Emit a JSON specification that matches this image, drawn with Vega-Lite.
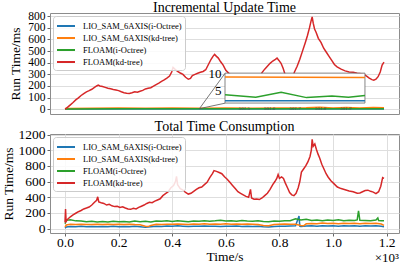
{
  "$schema": "https://vega.github.io/schema/vega-lite/v6.json",
  "padding": {"left": 0, "top": 0, "right": 0, "bottom": 0},
  "config": {
    "font": "Liberation Serif",
    "view": {"stroke": "#8c8c8c", "strokeWidth": 1},
    "title": {"font": "Liberation Serif", "fontSize": 14, "fontWeight": "normal", "color": "black"},
    "axis": {"labelFont": "Liberation Serif", "labelFontSize": 13.5, "labelColor": "black", "labelOverlap": false, "titleFont": "Liberation Serif", "titleFontSize": 13.5, "titleFontWeight": "normal", "titleColor": "black", "gridColor": "#dedede", "gridWidth": 1, "domain": false, "tickColor": "#666666", "tickSize": 3, "labelPadding": 2, "titlePadding": 3},
    "legend": {"orient": "top-left", "offset": 3, "fillColor": "rgba(255,255,255,0.85)", "strokeColor": "#cccccc", "cornerRadius": 3, "padding": 3, "rowPadding": 0, "symbolType": "M-1.5,0L1.5,0", "symbolSize": 144, "symbolOffset": 3, "symbolStrokeWidth": 2, "labelFont": "Liberation Serif", "labelFontSize": 8.5, "labelOffset": 10, "labelColor": "black"}
  },
  "datasets": {
    "top": [
      {"s": "LIO_SAM_6AXIS(i-Octree)", "t": 0, "v": 1},
      {"s": "LIO_SAM_6AXIS(i-Octree)", "t": 0.3, "v": 2.5},
      {"s": "LIO_SAM_6AXIS(i-Octree)", "t": 0.6, "v": 2.3},
      {"s": "LIO_SAM_6AXIS(i-Octree)", "t": 0.9, "v": 2.6},
      {"s": "LIO_SAM_6AXIS(i-Octree)", "t": 1.19, "v": 2.4},
      {"s": "LIO_SAM_6AXIS(kd-tree)", "t": 0, "v": 6},
      {"s": "LIO_SAM_6AXIS(kd-tree)", "t": 0.1, "v": 9},
      {"s": "LIO_SAM_6AXIS(kd-tree)", "t": 0.2, "v": 10},
      {"s": "LIO_SAM_6AXIS(kd-tree)", "t": 0.3, "v": 9},
      {"s": "LIO_SAM_6AXIS(kd-tree)", "t": 0.4, "v": 11},
      {"s": "LIO_SAM_6AXIS(kd-tree)", "t": 0.5, "v": 9},
      {"s": "LIO_SAM_6AXIS(kd-tree)", "t": 0.6, "v": 10},
      {"s": "LIO_SAM_6AXIS(kd-tree)", "t": 0.7, "v": 9},
      {"s": "LIO_SAM_6AXIS(kd-tree)", "t": 0.8, "v": 11},
      {"s": "LIO_SAM_6AXIS(kd-tree)", "t": 0.9, "v": 12},
      {"s": "LIO_SAM_6AXIS(kd-tree)", "t": 0.95, "v": 16},
      {"s": "LIO_SAM_6AXIS(kd-tree)", "t": 1.0, "v": 11},
      {"s": "LIO_SAM_6AXIS(kd-tree)", "t": 1.05, "v": 15},
      {"s": "LIO_SAM_6AXIS(kd-tree)", "t": 1.1, "v": 10},
      {"s": "LIO_SAM_6AXIS(kd-tree)", "t": 1.15, "v": 14},
      {"s": "LIO_SAM_6AXIS(kd-tree)", "t": 1.19, "v": 12},
      {"s": "FLOAM(i-Octree)", "t": 0, "v": 2},
      {"s": "FLOAM(i-Octree)", "t": 0.2, "v": 4},
      {"s": "FLOAM(i-Octree)", "t": 0.4, "v": 4.2},
      {"s": "FLOAM(i-Octree)", "t": 0.6, "v": 4.4},
      {"s": "FLOAM(i-Octree)", "t": 0.8, "v": 4},
      {"s": "FLOAM(i-Octree)", "t": 1.0, "v": 4.5},
      {"s": "FLOAM(i-Octree)", "t": 1.19, "v": 4.2},
      {"s": "FLOAM(kd-tree)", "t": 0.000, "v": 0},
      {"s": "FLOAM(kd-tree)", "t": 0.010, "v": 18},
      {"s": "FLOAM(kd-tree)", "t": 0.020, "v": 38},
      {"s": "FLOAM(kd-tree)", "t": 0.030, "v": 58},
      {"s": "FLOAM(kd-tree)", "t": 0.040, "v": 80},
      {"s": "FLOAM(kd-tree)", "t": 0.050, "v": 98},
      {"s": "FLOAM(kd-tree)", "t": 0.060, "v": 118},
      {"s": "FLOAM(kd-tree)", "t": 0.070, "v": 135},
      {"s": "FLOAM(kd-tree)", "t": 0.080, "v": 150},
      {"s": "FLOAM(kd-tree)", "t": 0.090, "v": 160},
      {"s": "FLOAM(kd-tree)", "t": 0.100, "v": 172},
      {"s": "FLOAM(kd-tree)", "t": 0.110, "v": 188},
      {"s": "FLOAM(kd-tree)", "t": 0.118, "v": 200},
      {"s": "FLOAM(kd-tree)", "t": 0.124, "v": 208},
      {"s": "FLOAM(kd-tree)", "t": 0.130, "v": 200},
      {"s": "FLOAM(kd-tree)", "t": 0.140, "v": 196},
      {"s": "FLOAM(kd-tree)", "t": 0.150, "v": 188},
      {"s": "FLOAM(kd-tree)", "t": 0.160, "v": 180},
      {"s": "FLOAM(kd-tree)", "t": 0.170, "v": 176},
      {"s": "FLOAM(kd-tree)", "t": 0.180, "v": 170},
      {"s": "FLOAM(kd-tree)", "t": 0.190, "v": 165},
      {"s": "FLOAM(kd-tree)", "t": 0.200, "v": 160},
      {"s": "FLOAM(kd-tree)", "t": 0.210, "v": 150},
      {"s": "FLOAM(kd-tree)", "t": 0.220, "v": 142},
      {"s": "FLOAM(kd-tree)", "t": 0.230, "v": 138},
      {"s": "FLOAM(kd-tree)", "t": 0.240, "v": 135},
      {"s": "FLOAM(kd-tree)", "t": 0.250, "v": 142},
      {"s": "FLOAM(kd-tree)", "t": 0.260, "v": 150},
      {"s": "FLOAM(kd-tree)", "t": 0.270, "v": 146},
      {"s": "FLOAM(kd-tree)", "t": 0.280, "v": 155},
      {"s": "FLOAM(kd-tree)", "t": 0.290, "v": 162},
      {"s": "FLOAM(kd-tree)", "t": 0.300, "v": 175},
      {"s": "FLOAM(kd-tree)", "t": 0.310, "v": 180},
      {"s": "FLOAM(kd-tree)", "t": 0.320, "v": 185},
      {"s": "FLOAM(kd-tree)", "t": 0.330, "v": 198},
      {"s": "FLOAM(kd-tree)", "t": 0.340, "v": 212},
      {"s": "FLOAM(kd-tree)", "t": 0.350, "v": 225},
      {"s": "FLOAM(kd-tree)", "t": 0.360, "v": 240},
      {"s": "FLOAM(kd-tree)", "t": 0.370, "v": 252},
      {"s": "FLOAM(kd-tree)", "t": 0.380, "v": 268},
      {"s": "FLOAM(kd-tree)", "t": 0.390, "v": 285},
      {"s": "FLOAM(kd-tree)", "t": 0.398, "v": 320},
      {"s": "FLOAM(kd-tree)", "t": 0.403, "v": 360},
      {"s": "FLOAM(kd-tree)", "t": 0.410, "v": 345},
      {"s": "FLOAM(kd-tree)", "t": 0.420, "v": 325},
      {"s": "FLOAM(kd-tree)", "t": 0.430, "v": 312},
      {"s": "FLOAM(kd-tree)", "t": 0.440, "v": 300},
      {"s": "FLOAM(kd-tree)", "t": 0.450, "v": 275},
      {"s": "FLOAM(kd-tree)", "t": 0.460, "v": 258},
      {"s": "FLOAM(kd-tree)", "t": 0.468, "v": 265},
      {"s": "FLOAM(kd-tree)", "t": 0.475, "v": 290},
      {"s": "FLOAM(kd-tree)", "t": 0.485, "v": 300},
      {"s": "FLOAM(kd-tree)", "t": 0.495, "v": 310},
      {"s": "FLOAM(kd-tree)", "t": 0.505, "v": 318},
      {"s": "FLOAM(kd-tree)", "t": 0.515, "v": 325},
      {"s": "FLOAM(kd-tree)", "t": 0.525, "v": 340},
      {"s": "FLOAM(kd-tree)", "t": 0.535, "v": 385},
      {"s": "FLOAM(kd-tree)", "t": 0.545, "v": 430},
      {"s": "FLOAM(kd-tree)", "t": 0.552, "v": 455},
      {"s": "FLOAM(kd-tree)", "t": 0.558, "v": 472},
      {"s": "FLOAM(kd-tree)", "t": 0.565, "v": 455},
      {"s": "FLOAM(kd-tree)", "t": 0.572, "v": 440},
      {"s": "FLOAM(kd-tree)", "t": 0.580, "v": 410},
      {"s": "FLOAM(kd-tree)", "t": 0.590, "v": 380},
      {"s": "FLOAM(kd-tree)", "t": 0.600, "v": 335},
      {"s": "FLOAM(kd-tree)", "t": 0.615, "v": 300},
      {"s": "FLOAM(kd-tree)", "t": 0.630, "v": 260},
      {"s": "FLOAM(kd-tree)", "t": 0.650, "v": 220},
      {"s": "FLOAM(kd-tree)", "t": 0.670, "v": 190},
      {"s": "FLOAM(kd-tree)", "t": 0.690, "v": 175},
      {"s": "FLOAM(kd-tree)", "t": 0.710, "v": 200},
      {"s": "FLOAM(kd-tree)", "t": 0.725, "v": 270},
      {"s": "FLOAM(kd-tree)", "t": 0.735, "v": 315},
      {"s": "FLOAM(kd-tree)", "t": 0.745, "v": 345},
      {"s": "FLOAM(kd-tree)", "t": 0.755, "v": 370},
      {"s": "FLOAM(kd-tree)", "t": 0.765, "v": 395},
      {"s": "FLOAM(kd-tree)", "t": 0.775, "v": 415},
      {"s": "FLOAM(kd-tree)", "t": 0.785, "v": 430},
      {"s": "FLOAM(kd-tree)", "t": 0.791, "v": 440},
      {"s": "FLOAM(kd-tree)", "t": 0.798, "v": 420},
      {"s": "FLOAM(kd-tree)", "t": 0.806, "v": 395},
      {"s": "FLOAM(kd-tree)", "t": 0.814, "v": 350},
      {"s": "FLOAM(kd-tree)", "t": 0.821, "v": 300},
      {"s": "FLOAM(kd-tree)", "t": 0.830, "v": 270},
      {"s": "FLOAM(kd-tree)", "t": 0.840, "v": 255},
      {"s": "FLOAM(kd-tree)", "t": 0.850, "v": 280},
      {"s": "FLOAM(kd-tree)", "t": 0.856, "v": 320},
      {"s": "FLOAM(kd-tree)", "t": 0.866, "v": 370},
      {"s": "FLOAM(kd-tree)", "t": 0.876, "v": 430},
      {"s": "FLOAM(kd-tree)", "t": 0.886, "v": 500},
      {"s": "FLOAM(kd-tree)", "t": 0.896, "v": 570},
      {"s": "FLOAM(kd-tree)", "t": 0.904, "v": 630},
      {"s": "FLOAM(kd-tree)", "t": 0.912, "v": 700},
      {"s": "FLOAM(kd-tree)", "t": 0.918, "v": 760},
      {"s": "FLOAM(kd-tree)", "t": 0.922, "v": 795},
      {"s": "FLOAM(kd-tree)", "t": 0.926, "v": 740},
      {"s": "FLOAM(kd-tree)", "t": 0.931, "v": 690},
      {"s": "FLOAM(kd-tree)", "t": 0.937, "v": 660},
      {"s": "FLOAM(kd-tree)", "t": 0.945, "v": 610},
      {"s": "FLOAM(kd-tree)", "t": 0.955, "v": 575},
      {"s": "FLOAM(kd-tree)", "t": 0.965, "v": 525},
      {"s": "FLOAM(kd-tree)", "t": 0.975, "v": 490},
      {"s": "FLOAM(kd-tree)", "t": 0.985, "v": 455},
      {"s": "FLOAM(kd-tree)", "t": 0.995, "v": 420},
      {"s": "FLOAM(kd-tree)", "t": 1.005, "v": 385},
      {"s": "FLOAM(kd-tree)", "t": 1.015, "v": 365},
      {"s": "FLOAM(kd-tree)", "t": 1.030, "v": 345},
      {"s": "FLOAM(kd-tree)", "t": 1.045, "v": 330},
      {"s": "FLOAM(kd-tree)", "t": 1.060, "v": 320},
      {"s": "FLOAM(kd-tree)", "t": 1.075, "v": 318},
      {"s": "FLOAM(kd-tree)", "t": 1.090, "v": 310},
      {"s": "FLOAM(kd-tree)", "t": 1.105, "v": 305},
      {"s": "FLOAM(kd-tree)", "t": 1.116, "v": 300},
      {"s": "FLOAM(kd-tree)", "t": 1.125, "v": 285},
      {"s": "FLOAM(kd-tree)", "t": 1.135, "v": 268},
      {"s": "FLOAM(kd-tree)", "t": 1.145, "v": 255},
      {"s": "FLOAM(kd-tree)", "t": 1.152, "v": 250},
      {"s": "FLOAM(kd-tree)", "t": 1.160, "v": 258},
      {"s": "FLOAM(kd-tree)", "t": 1.168, "v": 280},
      {"s": "FLOAM(kd-tree)", "t": 1.176, "v": 320},
      {"s": "FLOAM(kd-tree)", "t": 1.183, "v": 380},
      {"s": "FLOAM(kd-tree)", "t": 1.190, "v": 405}
    ],
    "inset": [
      {"s": "LIO_SAM_6AXIS(i-Octree)", "t": 501.424, "v": 2.3},
      {"s": "LIO_SAM_6AXIS(i-Octree)", "t": 501.975, "v": 2.3},
      {"s": "LIO_SAM_6AXIS(kd-tree)", "t": 501.424, "v": 9.25},
      {"s": "LIO_SAM_6AXIS(kd-tree)", "t": 501.975, "v": 9.15},
      {"s": "FLOAM(i-Octree)", "t": 501.424, "v": 4.05},
      {"s": "FLOAM(i-Octree)", "t": 501.545, "v": 3.3},
      {"s": "FLOAM(i-Octree)", "t": 501.645, "v": 4.8},
      {"s": "FLOAM(i-Octree)", "t": 501.745, "v": 3.2},
      {"s": "FLOAM(i-Octree)", "t": 501.845, "v": 3.7},
      {"s": "FLOAM(i-Octree)", "t": 501.91, "v": 3.3},
      {"s": "FLOAM(i-Octree)", "t": 501.975, "v": 3.8}
    ],
    "insetXTicks": [
      {"v": 501.5, "lab": "501.5"},
      {"v": 501.6, "lab": "501.6"},
      {"v": 501.7, "lab": "501.7"},
      {"v": 501.8, "lab": "501.8"},
      {"v": 501.9, "lab": "501.9"}
    ],
    "insetYTicks": [
      {"v": 10, "lab": "10"},
      {"v": 5, "lab": "5"}
    ],
    "bottom": [
      {"s": "LIO_SAM_6AXIS(i-Octree)", "t": 0.000, "v": 5},
      {"s": "LIO_SAM_6AXIS(i-Octree)", "t": 0.005, "v": 20},
      {"s": "LIO_SAM_6AXIS(i-Octree)", "t": 0.02, "v": 25},
      {"s": "LIO_SAM_6AXIS(i-Octree)", "t": 0.04, "v": 22},
      {"s": "LIO_SAM_6AXIS(i-Octree)", "t": 0.06, "v": 28},
      {"s": "LIO_SAM_6AXIS(i-Octree)", "t": 0.08, "v": 24},
      {"s": "LIO_SAM_6AXIS(i-Octree)", "t": 0.10, "v": 26},
      {"s": "LIO_SAM_6AXIS(i-Octree)", "t": 0.12, "v": 22},
      {"s": "LIO_SAM_6AXIS(i-Octree)", "t": 0.14, "v": 27},
      {"s": "LIO_SAM_6AXIS(i-Octree)", "t": 0.16, "v": 23},
      {"s": "LIO_SAM_6AXIS(i-Octree)", "t": 0.18, "v": 28},
      {"s": "LIO_SAM_6AXIS(i-Octree)", "t": 0.20, "v": 24},
      {"s": "LIO_SAM_6AXIS(i-Octree)", "t": 0.22, "v": 26},
      {"s": "LIO_SAM_6AXIS(i-Octree)", "t": 0.24, "v": 22},
      {"s": "LIO_SAM_6AXIS(i-Octree)", "t": 0.26, "v": 28},
      {"s": "LIO_SAM_6AXIS(i-Octree)", "t": 0.28, "v": 24},
      {"s": "LIO_SAM_6AXIS(i-Octree)", "t": 0.30, "v": 15},
      {"s": "LIO_SAM_6AXIS(i-Octree)", "t": 0.32, "v": 22},
      {"s": "LIO_SAM_6AXIS(i-Octree)", "t": 0.34, "v": 30},
      {"s": "LIO_SAM_6AXIS(i-Octree)", "t": 0.36, "v": 26},
      {"s": "LIO_SAM_6AXIS(i-Octree)", "t": 0.38, "v": 32},
      {"s": "LIO_SAM_6AXIS(i-Octree)", "t": 0.40, "v": 28},
      {"s": "LIO_SAM_6AXIS(i-Octree)", "t": 0.42, "v": 34},
      {"s": "LIO_SAM_6AXIS(i-Octree)", "t": 0.44, "v": 30},
      {"s": "LIO_SAM_6AXIS(i-Octree)", "t": 0.46, "v": 26},
      {"s": "LIO_SAM_6AXIS(i-Octree)", "t": 0.48, "v": 30},
      {"s": "LIO_SAM_6AXIS(i-Octree)", "t": 0.50, "v": 28},
      {"s": "LIO_SAM_6AXIS(i-Octree)", "t": 0.52, "v": 32},
      {"s": "LIO_SAM_6AXIS(i-Octree)", "t": 0.54, "v": 28},
      {"s": "LIO_SAM_6AXIS(i-Octree)", "t": 0.56, "v": 30},
      {"s": "LIO_SAM_6AXIS(i-Octree)", "t": 0.58, "v": 26},
      {"s": "LIO_SAM_6AXIS(i-Octree)", "t": 0.60, "v": 30},
      {"s": "LIO_SAM_6AXIS(i-Octree)", "t": 0.62, "v": 28},
      {"s": "LIO_SAM_6AXIS(i-Octree)", "t": 0.64, "v": 32},
      {"s": "LIO_SAM_6AXIS(i-Octree)", "t": 0.66, "v": 27},
      {"s": "LIO_SAM_6AXIS(i-Octree)", "t": 0.68, "v": 30},
      {"s": "LIO_SAM_6AXIS(i-Octree)", "t": 0.70, "v": 26},
      {"s": "LIO_SAM_6AXIS(i-Octree)", "t": 0.72, "v": 28},
      {"s": "LIO_SAM_6AXIS(i-Octree)", "t": 0.74, "v": 22},
      {"s": "LIO_SAM_6AXIS(i-Octree)", "t": 0.76, "v": 20},
      {"s": "LIO_SAM_6AXIS(i-Octree)", "t": 0.78, "v": 26},
      {"s": "LIO_SAM_6AXIS(i-Octree)", "t": 0.80, "v": 30},
      {"s": "LIO_SAM_6AXIS(i-Octree)", "t": 0.82, "v": 28},
      {"s": "LIO_SAM_6AXIS(i-Octree)", "t": 0.84, "v": 32},
      {"s": "LIO_SAM_6AXIS(i-Octree)", "t": 0.86, "v": 35},
      {"s": "LIO_SAM_6AXIS(i-Octree)", "t": 0.873, "v": 160},
      {"s": "LIO_SAM_6AXIS(i-Octree)", "t": 0.876, "v": 30},
      {"s": "LIO_SAM_6AXIS(i-Octree)", "t": 0.88, "v": 25},
      {"s": "LIO_SAM_6AXIS(i-Octree)", "t": 0.90, "v": 32},
      {"s": "LIO_SAM_6AXIS(i-Octree)", "t": 0.92, "v": 35},
      {"s": "LIO_SAM_6AXIS(i-Octree)", "t": 0.94, "v": 30},
      {"s": "LIO_SAM_6AXIS(i-Octree)", "t": 0.96, "v": 36},
      {"s": "LIO_SAM_6AXIS(i-Octree)", "t": 0.98, "v": 32},
      {"s": "LIO_SAM_6AXIS(i-Octree)", "t": 1.00, "v": 34},
      {"s": "LIO_SAM_6AXIS(i-Octree)", "t": 1.02, "v": 30},
      {"s": "LIO_SAM_6AXIS(i-Octree)", "t": 1.04, "v": 36},
      {"s": "LIO_SAM_6AXIS(i-Octree)", "t": 1.06, "v": 32},
      {"s": "LIO_SAM_6AXIS(i-Octree)", "t": 1.08, "v": 34},
      {"s": "LIO_SAM_6AXIS(i-Octree)", "t": 1.10, "v": 30},
      {"s": "LIO_SAM_6AXIS(i-Octree)", "t": 1.12, "v": 36},
      {"s": "LIO_SAM_6AXIS(i-Octree)", "t": 1.14, "v": 32},
      {"s": "LIO_SAM_6AXIS(i-Octree)", "t": 1.16, "v": 34},
      {"s": "LIO_SAM_6AXIS(i-Octree)", "t": 1.18, "v": 28},
      {"s": "LIO_SAM_6AXIS(i-Octree)", "t": 1.19, "v": 22},
      {"s": "LIO_SAM_6AXIS(kd-tree)", "t": 0.000, "v": 20},
      {"s": "LIO_SAM_6AXIS(kd-tree)", "t": 0.005, "v": 45},
      {"s": "LIO_SAM_6AXIS(kd-tree)", "t": 0.02, "v": 55},
      {"s": "LIO_SAM_6AXIS(kd-tree)", "t": 0.04, "v": 50},
      {"s": "LIO_SAM_6AXIS(kd-tree)", "t": 0.06, "v": 56},
      {"s": "LIO_SAM_6AXIS(kd-tree)", "t": 0.08, "v": 52},
      {"s": "LIO_SAM_6AXIS(kd-tree)", "t": 0.10, "v": 50},
      {"s": "LIO_SAM_6AXIS(kd-tree)", "t": 0.12, "v": 55},
      {"s": "LIO_SAM_6AXIS(kd-tree)", "t": 0.14, "v": 50},
      {"s": "LIO_SAM_6AXIS(kd-tree)", "t": 0.16, "v": 54},
      {"s": "LIO_SAM_6AXIS(kd-tree)", "t": 0.18, "v": 50},
      {"s": "LIO_SAM_6AXIS(kd-tree)", "t": 0.20, "v": 55},
      {"s": "LIO_SAM_6AXIS(kd-tree)", "t": 0.22, "v": 52},
      {"s": "LIO_SAM_6AXIS(kd-tree)", "t": 0.24, "v": 56},
      {"s": "LIO_SAM_6AXIS(kd-tree)", "t": 0.26, "v": 50},
      {"s": "LIO_SAM_6AXIS(kd-tree)", "t": 0.28, "v": 48},
      {"s": "LIO_SAM_6AXIS(kd-tree)", "t": 0.30, "v": 30},
      {"s": "LIO_SAM_6AXIS(kd-tree)", "t": 0.31, "v": 25},
      {"s": "LIO_SAM_6AXIS(kd-tree)", "t": 0.32, "v": 40},
      {"s": "LIO_SAM_6AXIS(kd-tree)", "t": 0.34, "v": 55},
      {"s": "LIO_SAM_6AXIS(kd-tree)", "t": 0.36, "v": 52},
      {"s": "LIO_SAM_6AXIS(kd-tree)", "t": 0.38, "v": 56},
      {"s": "LIO_SAM_6AXIS(kd-tree)", "t": 0.40, "v": 54},
      {"s": "LIO_SAM_6AXIS(kd-tree)", "t": 0.42, "v": 58},
      {"s": "LIO_SAM_6AXIS(kd-tree)", "t": 0.44, "v": 55},
      {"s": "LIO_SAM_6AXIS(kd-tree)", "t": 0.46, "v": 52},
      {"s": "LIO_SAM_6AXIS(kd-tree)", "t": 0.48, "v": 58},
      {"s": "LIO_SAM_6AXIS(kd-tree)", "t": 0.50, "v": 55},
      {"s": "LIO_SAM_6AXIS(kd-tree)", "t": 0.52, "v": 60},
      {"s": "LIO_SAM_6AXIS(kd-tree)", "t": 0.54, "v": 56},
      {"s": "LIO_SAM_6AXIS(kd-tree)", "t": 0.56, "v": 58},
      {"s": "LIO_SAM_6AXIS(kd-tree)", "t": 0.58, "v": 55},
      {"s": "LIO_SAM_6AXIS(kd-tree)", "t": 0.60, "v": 60},
      {"s": "LIO_SAM_6AXIS(kd-tree)", "t": 0.62, "v": 56},
      {"s": "LIO_SAM_6AXIS(kd-tree)", "t": 0.64, "v": 58},
      {"s": "LIO_SAM_6AXIS(kd-tree)", "t": 0.66, "v": 54},
      {"s": "LIO_SAM_6AXIS(kd-tree)", "t": 0.68, "v": 58},
      {"s": "LIO_SAM_6AXIS(kd-tree)", "t": 0.70, "v": 55},
      {"s": "LIO_SAM_6AXIS(kd-tree)", "t": 0.72, "v": 50},
      {"s": "LIO_SAM_6AXIS(kd-tree)", "t": 0.74, "v": 38},
      {"s": "LIO_SAM_6AXIS(kd-tree)", "t": 0.76, "v": 35},
      {"s": "LIO_SAM_6AXIS(kd-tree)", "t": 0.78, "v": 50},
      {"s": "LIO_SAM_6AXIS(kd-tree)", "t": 0.80, "v": 55},
      {"s": "LIO_SAM_6AXIS(kd-tree)", "t": 0.82, "v": 58},
      {"s": "LIO_SAM_6AXIS(kd-tree)", "t": 0.84, "v": 54},
      {"s": "LIO_SAM_6AXIS(kd-tree)", "t": 0.86, "v": 56},
      {"s": "LIO_SAM_6AXIS(kd-tree)", "t": 0.88, "v": 40},
      {"s": "LIO_SAM_6AXIS(kd-tree)", "t": 0.89, "v": 35},
      {"s": "LIO_SAM_6AXIS(kd-tree)", "t": 0.90, "v": 60},
      {"s": "LIO_SAM_6AXIS(kd-tree)", "t": 0.92, "v": 65},
      {"s": "LIO_SAM_6AXIS(kd-tree)", "t": 0.94, "v": 62},
      {"s": "LIO_SAM_6AXIS(kd-tree)", "t": 0.96, "v": 70},
      {"s": "LIO_SAM_6AXIS(kd-tree)", "t": 0.98, "v": 64},
      {"s": "LIO_SAM_6AXIS(kd-tree)", "t": 1.00, "v": 66},
      {"s": "LIO_SAM_6AXIS(kd-tree)", "t": 1.02, "v": 62},
      {"s": "LIO_SAM_6AXIS(kd-tree)", "t": 1.04, "v": 68},
      {"s": "LIO_SAM_6AXIS(kd-tree)", "t": 1.06, "v": 64},
      {"s": "LIO_SAM_6AXIS(kd-tree)", "t": 1.08, "v": 66},
      {"s": "LIO_SAM_6AXIS(kd-tree)", "t": 1.10, "v": 62},
      {"s": "LIO_SAM_6AXIS(kd-tree)", "t": 1.12, "v": 68},
      {"s": "LIO_SAM_6AXIS(kd-tree)", "t": 1.14, "v": 64},
      {"s": "LIO_SAM_6AXIS(kd-tree)", "t": 1.16, "v": 66},
      {"s": "LIO_SAM_6AXIS(kd-tree)", "t": 1.18, "v": 58},
      {"s": "LIO_SAM_6AXIS(kd-tree)", "t": 1.19, "v": 40},
      {"s": "FLOAM(i-Octree)", "t": 0.000, "v": 60},
      {"s": "FLOAM(i-Octree)", "t": 0.005, "v": 105},
      {"s": "FLOAM(i-Octree)", "t": 0.02, "v": 112},
      {"s": "FLOAM(i-Octree)", "t": 0.04, "v": 98},
      {"s": "FLOAM(i-Octree)", "t": 0.06, "v": 95},
      {"s": "FLOAM(i-Octree)", "t": 0.08, "v": 88},
      {"s": "FLOAM(i-Octree)", "t": 0.10, "v": 92},
      {"s": "FLOAM(i-Octree)", "t": 0.12, "v": 85},
      {"s": "FLOAM(i-Octree)", "t": 0.14, "v": 90},
      {"s": "FLOAM(i-Octree)", "t": 0.16, "v": 84},
      {"s": "FLOAM(i-Octree)", "t": 0.18, "v": 92},
      {"s": "FLOAM(i-Octree)", "t": 0.20, "v": 86},
      {"s": "FLOAM(i-Octree)", "t": 0.22, "v": 90},
      {"s": "FLOAM(i-Octree)", "t": 0.24, "v": 84},
      {"s": "FLOAM(i-Octree)", "t": 0.26, "v": 95},
      {"s": "FLOAM(i-Octree)", "t": 0.28, "v": 88},
      {"s": "FLOAM(i-Octree)", "t": 0.30, "v": 92},
      {"s": "FLOAM(i-Octree)", "t": 0.32, "v": 85},
      {"s": "FLOAM(i-Octree)", "t": 0.34, "v": 96},
      {"s": "FLOAM(i-Octree)", "t": 0.36, "v": 92},
      {"s": "FLOAM(i-Octree)", "t": 0.38, "v": 98},
      {"s": "FLOAM(i-Octree)", "t": 0.40, "v": 90},
      {"s": "FLOAM(i-Octree)", "t": 0.42, "v": 100},
      {"s": "FLOAM(i-Octree)", "t": 0.44, "v": 94},
      {"s": "FLOAM(i-Octree)", "t": 0.46, "v": 88},
      {"s": "FLOAM(i-Octree)", "t": 0.48, "v": 96},
      {"s": "FLOAM(i-Octree)", "t": 0.50, "v": 92},
      {"s": "FLOAM(i-Octree)", "t": 0.52, "v": 100},
      {"s": "FLOAM(i-Octree)", "t": 0.54, "v": 94},
      {"s": "FLOAM(i-Octree)", "t": 0.56, "v": 98},
      {"s": "FLOAM(i-Octree)", "t": 0.58, "v": 105},
      {"s": "FLOAM(i-Octree)", "t": 0.60, "v": 96},
      {"s": "FLOAM(i-Octree)", "t": 0.62, "v": 100},
      {"s": "FLOAM(i-Octree)", "t": 0.64, "v": 94},
      {"s": "FLOAM(i-Octree)", "t": 0.66, "v": 102},
      {"s": "FLOAM(i-Octree)", "t": 0.68, "v": 96},
      {"s": "FLOAM(i-Octree)", "t": 0.70, "v": 92},
      {"s": "FLOAM(i-Octree)", "t": 0.72, "v": 98},
      {"s": "FLOAM(i-Octree)", "t": 0.74, "v": 90},
      {"s": "FLOAM(i-Octree)", "t": 0.76, "v": 88},
      {"s": "FLOAM(i-Octree)", "t": 0.78, "v": 96},
      {"s": "FLOAM(i-Octree)", "t": 0.80, "v": 92},
      {"s": "FLOAM(i-Octree)", "t": 0.82, "v": 98},
      {"s": "FLOAM(i-Octree)", "t": 0.84, "v": 100},
      {"s": "FLOAM(i-Octree)", "t": 0.86, "v": 125},
      {"s": "FLOAM(i-Octree)", "t": 0.88, "v": 108},
      {"s": "FLOAM(i-Octree)", "t": 0.90, "v": 118},
      {"s": "FLOAM(i-Octree)", "t": 0.92, "v": 104},
      {"s": "FLOAM(i-Octree)", "t": 0.94, "v": 110},
      {"s": "FLOAM(i-Octree)", "t": 0.96, "v": 100},
      {"s": "FLOAM(i-Octree)", "t": 0.98, "v": 108},
      {"s": "FLOAM(i-Octree)", "t": 1.00, "v": 104},
      {"s": "FLOAM(i-Octree)", "t": 1.02, "v": 112},
      {"s": "FLOAM(i-Octree)", "t": 1.04, "v": 100},
      {"s": "FLOAM(i-Octree)", "t": 1.06, "v": 106},
      {"s": "FLOAM(i-Octree)", "t": 1.08, "v": 102},
      {"s": "FLOAM(i-Octree)", "t": 1.09, "v": 110},
      {"s": "FLOAM(i-Octree)", "t": 1.095, "v": 225},
      {"s": "FLOAM(i-Octree)", "t": 1.10, "v": 105},
      {"s": "FLOAM(i-Octree)", "t": 1.12, "v": 104},
      {"s": "FLOAM(i-Octree)", "t": 1.14, "v": 98},
      {"s": "FLOAM(i-Octree)", "t": 1.16, "v": 108},
      {"s": "FLOAM(i-Octree)", "t": 1.167, "v": 135},
      {"s": "FLOAM(i-Octree)", "t": 1.17, "v": 102},
      {"s": "FLOAM(i-Octree)", "t": 1.18, "v": 100},
      {"s": "FLOAM(i-Octree)", "t": 1.19, "v": 98},
      {"s": "FLOAM(kd-tree)", "t": 0.000, "v": 80},
      {"s": "FLOAM(kd-tree)", "t": 0.002, "v": 250},
      {"s": "FLOAM(kd-tree)", "t": 0.004, "v": 90},
      {"s": "FLOAM(kd-tree)", "t": 0.010, "v": 120},
      {"s": "FLOAM(kd-tree)", "t": 0.020, "v": 150},
      {"s": "FLOAM(kd-tree)", "t": 0.030, "v": 175},
      {"s": "FLOAM(kd-tree)", "t": 0.040, "v": 195},
      {"s": "FLOAM(kd-tree)", "t": 0.050, "v": 215},
      {"s": "FLOAM(kd-tree)", "t": 0.060, "v": 230},
      {"s": "FLOAM(kd-tree)", "t": 0.070, "v": 250},
      {"s": "FLOAM(kd-tree)", "t": 0.080, "v": 262},
      {"s": "FLOAM(kd-tree)", "t": 0.090, "v": 275},
      {"s": "FLOAM(kd-tree)", "t": 0.100, "v": 300},
      {"s": "FLOAM(kd-tree)", "t": 0.110, "v": 335},
      {"s": "FLOAM(kd-tree)", "t": 0.118, "v": 360},
      {"s": "FLOAM(kd-tree)", "t": 0.122, "v": 405},
      {"s": "FLOAM(kd-tree)", "t": 0.126, "v": 340},
      {"s": "FLOAM(kd-tree)", "t": 0.135, "v": 330},
      {"s": "FLOAM(kd-tree)", "t": 0.145, "v": 320},
      {"s": "FLOAM(kd-tree)", "t": 0.155, "v": 300},
      {"s": "FLOAM(kd-tree)", "t": 0.165, "v": 310},
      {"s": "FLOAM(kd-tree)", "t": 0.175, "v": 290},
      {"s": "FLOAM(kd-tree)", "t": 0.185, "v": 280},
      {"s": "FLOAM(kd-tree)", "t": 0.195, "v": 285},
      {"s": "FLOAM(kd-tree)", "t": 0.205, "v": 270},
      {"s": "FLOAM(kd-tree)", "t": 0.215, "v": 278},
      {"s": "FLOAM(kd-tree)", "t": 0.225, "v": 262},
      {"s": "FLOAM(kd-tree)", "t": 0.235, "v": 250},
      {"s": "FLOAM(kd-tree)", "t": 0.245, "v": 245},
      {"s": "FLOAM(kd-tree)", "t": 0.255, "v": 258},
      {"s": "FLOAM(kd-tree)", "t": 0.265, "v": 250},
      {"s": "FLOAM(kd-tree)", "t": 0.275, "v": 270},
      {"s": "FLOAM(kd-tree)", "t": 0.285, "v": 285},
      {"s": "FLOAM(kd-tree)", "t": 0.295, "v": 300},
      {"s": "FLOAM(kd-tree)", "t": 0.305, "v": 320},
      {"s": "FLOAM(kd-tree)", "t": 0.315, "v": 335},
      {"s": "FLOAM(kd-tree)", "t": 0.325, "v": 330},
      {"s": "FLOAM(kd-tree)", "t": 0.335, "v": 350},
      {"s": "FLOAM(kd-tree)", "t": 0.345, "v": 365},
      {"s": "FLOAM(kd-tree)", "t": 0.355, "v": 380},
      {"s": "FLOAM(kd-tree)", "t": 0.365, "v": 420},
      {"s": "FLOAM(kd-tree)", "t": 0.375, "v": 445},
      {"s": "FLOAM(kd-tree)", "t": 0.385, "v": 470},
      {"s": "FLOAM(kd-tree)", "t": 0.395, "v": 520},
      {"s": "FLOAM(kd-tree)", "t": 0.405, "v": 550},
      {"s": "FLOAM(kd-tree)", "t": 0.412, "v": 600},
      {"s": "FLOAM(kd-tree)", "t": 0.416, "v": 665},
      {"s": "FLOAM(kd-tree)", "t": 0.420, "v": 560},
      {"s": "FLOAM(kd-tree)", "t": 0.430, "v": 510},
      {"s": "FLOAM(kd-tree)", "t": 0.440, "v": 490},
      {"s": "FLOAM(kd-tree)", "t": 0.450, "v": 460},
      {"s": "FLOAM(kd-tree)", "t": 0.460, "v": 440},
      {"s": "FLOAM(kd-tree)", "t": 0.470, "v": 450},
      {"s": "FLOAM(kd-tree)", "t": 0.480, "v": 475},
      {"s": "FLOAM(kd-tree)", "t": 0.490, "v": 500},
      {"s": "FLOAM(kd-tree)", "t": 0.500, "v": 520},
      {"s": "FLOAM(kd-tree)", "t": 0.510, "v": 530},
      {"s": "FLOAM(kd-tree)", "t": 0.520, "v": 560},
      {"s": "FLOAM(kd-tree)", "t": 0.530, "v": 590},
      {"s": "FLOAM(kd-tree)", "t": 0.540, "v": 650},
      {"s": "FLOAM(kd-tree)", "t": 0.550, "v": 700},
      {"s": "FLOAM(kd-tree)", "t": 0.556, "v": 740},
      {"s": "FLOAM(kd-tree)", "t": 0.565, "v": 730},
      {"s": "FLOAM(kd-tree)", "t": 0.575, "v": 715},
      {"s": "FLOAM(kd-tree)", "t": 0.585, "v": 700},
      {"s": "FLOAM(kd-tree)", "t": 0.595, "v": 660},
      {"s": "FLOAM(kd-tree)", "t": 0.605, "v": 630},
      {"s": "FLOAM(kd-tree)", "t": 0.615, "v": 590},
      {"s": "FLOAM(kd-tree)", "t": 0.625, "v": 550},
      {"s": "FLOAM(kd-tree)", "t": 0.635, "v": 510},
      {"s": "FLOAM(kd-tree)", "t": 0.645, "v": 470},
      {"s": "FLOAM(kd-tree)", "t": 0.655, "v": 450},
      {"s": "FLOAM(kd-tree)", "t": 0.665, "v": 430},
      {"s": "FLOAM(kd-tree)", "t": 0.675, "v": 410},
      {"s": "FLOAM(kd-tree)", "t": 0.685, "v": 400},
      {"s": "FLOAM(kd-tree)", "t": 0.692, "v": 500},
      {"s": "FLOAM(kd-tree)", "t": 0.696, "v": 390},
      {"s": "FLOAM(kd-tree)", "t": 0.705, "v": 375},
      {"s": "FLOAM(kd-tree)", "t": 0.715, "v": 378},
      {"s": "FLOAM(kd-tree)", "t": 0.725, "v": 370},
      {"s": "FLOAM(kd-tree)", "t": 0.735, "v": 390},
      {"s": "FLOAM(kd-tree)", "t": 0.745, "v": 420},
      {"s": "FLOAM(kd-tree)", "t": 0.755, "v": 450},
      {"s": "FLOAM(kd-tree)", "t": 0.765, "v": 500},
      {"s": "FLOAM(kd-tree)", "t": 0.775, "v": 560},
      {"s": "FLOAM(kd-tree)", "t": 0.783, "v": 600},
      {"s": "FLOAM(kd-tree)", "t": 0.790, "v": 640},
      {"s": "FLOAM(kd-tree)", "t": 0.795, "v": 690},
      {"s": "FLOAM(kd-tree)", "t": 0.800, "v": 640},
      {"s": "FLOAM(kd-tree)", "t": 0.808, "v": 660},
      {"s": "FLOAM(kd-tree)", "t": 0.815, "v": 640},
      {"s": "FLOAM(kd-tree)", "t": 0.822, "v": 580},
      {"s": "FLOAM(kd-tree)", "t": 0.830, "v": 520},
      {"s": "FLOAM(kd-tree)", "t": 0.838, "v": 460},
      {"s": "FLOAM(kd-tree)", "t": 0.846, "v": 430},
      {"s": "FLOAM(kd-tree)", "t": 0.854, "v": 420},
      {"s": "FLOAM(kd-tree)", "t": 0.862, "v": 450},
      {"s": "FLOAM(kd-tree)", "t": 0.870, "v": 520},
      {"s": "FLOAM(kd-tree)", "t": 0.876, "v": 600},
      {"s": "FLOAM(kd-tree)", "t": 0.882, "v": 720},
      {"s": "FLOAM(kd-tree)", "t": 0.890, "v": 760},
      {"s": "FLOAM(kd-tree)", "t": 0.898, "v": 800},
      {"s": "FLOAM(kd-tree)", "t": 0.906, "v": 850},
      {"s": "FLOAM(kd-tree)", "t": 0.914, "v": 920},
      {"s": "FLOAM(kd-tree)", "t": 0.919, "v": 1000},
      {"s": "FLOAM(kd-tree)", "t": 0.922, "v": 1140},
      {"s": "FLOAM(kd-tree)", "t": 0.926, "v": 1050},
      {"s": "FLOAM(kd-tree)", "t": 0.932, "v": 1080},
      {"s": "FLOAM(kd-tree)", "t": 0.938, "v": 1010},
      {"s": "FLOAM(kd-tree)", "t": 0.944, "v": 950},
      {"s": "FLOAM(kd-tree)", "t": 0.950, "v": 900},
      {"s": "FLOAM(kd-tree)", "t": 0.958, "v": 820},
      {"s": "FLOAM(kd-tree)", "t": 0.966, "v": 760},
      {"s": "FLOAM(kd-tree)", "t": 0.974, "v": 700},
      {"s": "FLOAM(kd-tree)", "t": 0.982, "v": 655},
      {"s": "FLOAM(kd-tree)", "t": 0.992, "v": 610},
      {"s": "FLOAM(kd-tree)", "t": 1.004, "v": 570},
      {"s": "FLOAM(kd-tree)", "t": 1.016, "v": 530},
      {"s": "FLOAM(kd-tree)", "t": 1.030, "v": 510},
      {"s": "FLOAM(kd-tree)", "t": 1.045, "v": 495},
      {"s": "FLOAM(kd-tree)", "t": 1.060, "v": 480},
      {"s": "FLOAM(kd-tree)", "t": 1.075, "v": 470},
      {"s": "FLOAM(kd-tree)", "t": 1.090, "v": 450},
      {"s": "FLOAM(kd-tree)", "t": 1.100, "v": 455},
      {"s": "FLOAM(kd-tree)", "t": 1.110, "v": 470},
      {"s": "FLOAM(kd-tree)", "t": 1.120, "v": 485},
      {"s": "FLOAM(kd-tree)", "t": 1.130, "v": 490},
      {"s": "FLOAM(kd-tree)", "t": 1.140, "v": 475},
      {"s": "FLOAM(kd-tree)", "t": 1.150, "v": 465},
      {"s": "FLOAM(kd-tree)", "t": 1.160, "v": 445},
      {"s": "FLOAM(kd-tree)", "t": 1.170, "v": 470},
      {"s": "FLOAM(kd-tree)", "t": 1.178, "v": 540},
      {"s": "FLOAM(kd-tree)", "t": 1.185, "v": 650},
      {"s": "FLOAM(kd-tree)", "t": 1.190, "v": 640}
    ]
  },
  "vconcat": [
    {
      "title": {"text": "Incremental Update Time", "offset": -5},
      "width": 349,
      "height": 101,
      "layer": [
        {
          "layer": [
            {
              "data": {"name": "top"},
              "mark": {"type": "line", "strokeWidth": 1.5},
              "encoding": {
                "x": {"field": "t", "type": "quantitative", "scale": {"domain": [-0.056, 1.246], "nice": false, "zero": false}, "axis": null},
                "y": {"field": "v", "type": "quantitative", "scale": {"domain": [-41, 828], "nice": false, "zero": false}, "axis": {"values": [0, 100, 200, 300, 400, 500, 600, 700, 800], "tickCount": 50, "format": "d", "labelOverlap": false, "labelFontSize": 11.5, "titlePadding": 5, "title": "Run Time/ms", "grid": true}},
                "color": {"field": "s", "type": "nominal", "scale": {"domain": ["LIO_SAM_6AXIS(i-Octree)", "LIO_SAM_6AXIS(kd-tree)", "FLOAM(i-Octree)", "FLOAM(kd-tree)"], "range": ["#1f77b4", "#ff7f0e", "#2ca02c", "#d62728"]}, "legend": {"title": null}}
              }
            },
            {
              "data": {"values": [{}]},
              "mark": {"type": "rule", "color": "#555555", "strokeWidth": 0.8},
              "encoding": {"x": {"datum": 0.5015}, "y": {"datum": 5}, "x2": {"datum": 0.597}, "y2": {"datum": 309}}
            },
            {
              "data": {"values": [{}]},
              "mark": {"type": "rule", "color": "#555555", "strokeWidth": 0.8},
              "encoding": {"x": {"datum": 0.5015}, "y": {"datum": 5}, "x2": {"datum": 0.597}, "y2": {"datum": 52}}
            }
          ]
        },
        {
          "layer": [
            {
              "data": {"values": [{}]},
              "mark": {"type": "rect", "fill": "white", "stroke": "#666666", "strokeWidth": 0.8},
              "encoding": {
                "x": {"datum": 501.424, "type": "quantitative", "scale": {"domain": [500.735, 502.109], "nice": false, "zero": false}, "axis": null},
                "x2": {"datum": 501.975},
                "y": {"datum": 1.6, "type": "quantitative", "scale": {"domain": [-1.62, 28.09], "nice": false, "zero": false}, "axis": null},
                "y2": {"datum": 10.4}
              }
            },
            {
              "data": {"name": "inset"},
              "mark": {"type": "line", "strokeWidth": 1.5},
              "encoding": {
                "x": {"field": "t", "type": "quantitative"},
                "y": {"field": "v", "type": "quantitative"},
                "color": {"field": "s", "type": "nominal", "legend": {"title": null}}
              }
            },
            {
              "data": {"name": "insetXTicks"},
              "mark": {"type": "text", "fontSize": 5, "color": "#444444", "baseline": "middle", "font": "Liberation Serif"},
              "encoding": {
                "x": {"field": "v", "type": "quantitative"},
                "y": {"datum": 0.05},
                "text": {"field": "lab"}
              }
            },
            {
              "data": {"name": "insetYTicks"},
              "mark": {"type": "text", "fontSize": 13, "color": "black", "align": "right", "baseline": "middle", "font": "Liberation Serif"},
              "encoding": {
                "x": {"datum": 501.41},
                "y": {"field": "v", "type": "quantitative"},
                "text": {"field": "lab"}
              }
            }
          ]
        }
      ],
      "resolve": {"scale": {"x": "independent", "y": "independent"}}
    },
    {
      "title": {"text": "Total Time Consumption", "offset": -6},
      "width": 349,
      "height": 99,
      "layer": [
        {
          "data": {"name": "bottom"},
          "mark": {"type": "line", "strokeWidth": 1.5},
          "encoding": {
            "x": {"field": "t", "type": "quantitative", "scale": {"domain": [-0.056, 1.246], "nice": false, "zero": false}, "axis": {"values": [0, 0.2, 0.4, 0.6, 0.8, 1.0, 1.2], "tickCount": 50, "format": ".1f", "labelOverlap": false, "labelPadding": -1, "titlePadding": 1, "title": "Time/s", "grid": true}},
            "y": {"field": "v", "type": "quantitative", "scale": {"domain": [-57, 1207], "nice": false, "zero": false}, "axis": {"values": [0, 200, 400, 600, 800, 1000, 1200], "tickCount": 50, "format": "d", "labelOverlap": false, "title": "Run Time/ms", "grid": true}},
            "color": {"field": "s", "type": "nominal", "scale": {"domain": ["LIO_SAM_6AXIS(i-Octree)", "LIO_SAM_6AXIS(kd-tree)", "FLOAM(i-Octree)", "FLOAM(kd-tree)"], "range": ["#1f77b4", "#ff7f0e", "#2ca02c", "#d62728"]}, "legend": {"title": null}}
          }
        },
        {
          "data": {"values": [{"lab": "×10³"}]},
          "mark": {"type": "text", "align": "right", "baseline": "middle", "fontSize": 13, "font": "Liberation Serif", "color": "black"},
          "encoding": {"x": {"datum": 1.246}, "y": {"datum": -372}, "text": {"field": "lab"}}
        }
      ]
    }
  ],
  "spacing": 3,
  "resolve": {"legend": {"color": "independent"}}
}
